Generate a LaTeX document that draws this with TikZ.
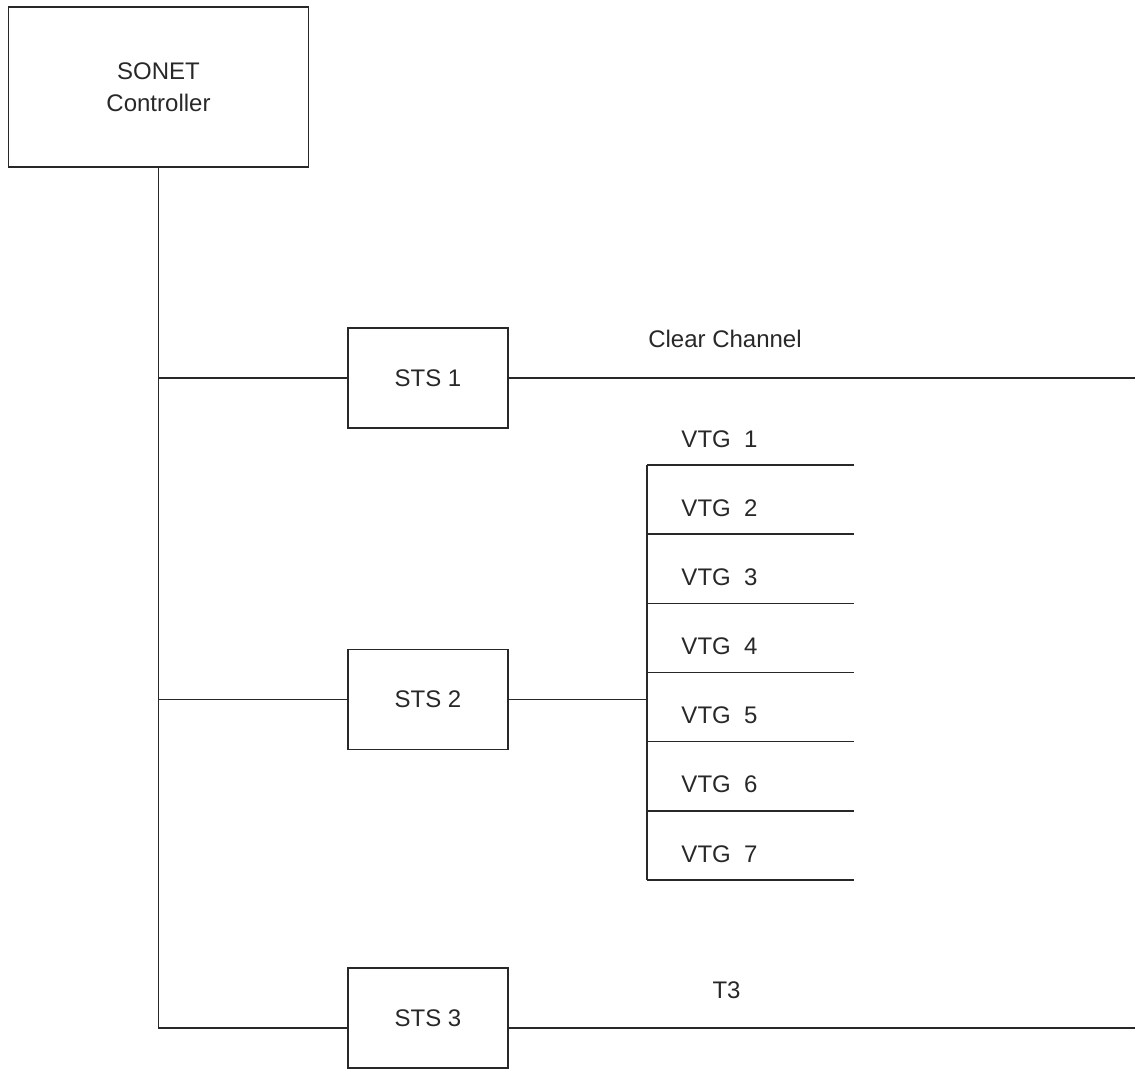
\documentclass[tikz,border=0pt]{standalone}
\usepackage{fontspec}
\setmainfont{Liberation Sans}
\usetikzlibrary{positioning}
\definecolor{lineink}{RGB}{40,40,40}

\begin{document}
\begin{tikzpicture}[x=0.5pt,y=-0.5pt,line width=0.75pt,color=lineink,
      every node/.style={font=\fontsize{12}{16}\selectfont},
      unit/.style={draw,minimum width=80pt,minimum height=50pt,inner sep=0pt}]
      \useasboundingbox (0,0) rectangle (1135,1070);
      \node[draw,minimum width=150pt,minimum height=80pt,align=center] (ctrl) at (158.5,87) {SONET\\Controller};
      \node[unit] (sts1) at (428,378) {STS 1};
      \node[unit,below=110pt of sts1] (sts2) {STS 2};
      \node[unit,below=108.5pt of sts2] (sts3) {STS 3};
      \coordinate (edge) at (1135,0);
      \coordinate (bus) at (647,0);
      \coordinate (sts3in) at ([yshift=-5pt]sts3.west);
      \coordinate (sts3out) at ([yshift=-5pt]sts3.east);
      % trunk and branches
      \draw (ctrl.south) |- (sts3in);
      \draw (ctrl.south |- sts1.west) -- (sts1.west);
      \draw (ctrl.south |- sts2.west) -- (sts2.west);
      \draw (sts1.east) -- (sts1.east -| edge);
      \draw (sts2.east) -- (sts2.east -| bus);
      \draw (sts3out) -- (sts3out -| edge);
      \node[anchor=base] (clear) at (725,347) {Clear Channel};
      \node[anchor=base] (t3) at (726.5,998) {T3};
      % virtual tributary groups
      \foreach \i in {1,...,7}{
        \coordinate (tap\i) at (647,{465+69.17*(\i-1)});
        \coordinate (end\i) at (854,{465+69.17*(\i-1)});
        \draw (tap\i) -- (end\i);
        \node[anchor=base] (vtg\i) at (719.5,{447+69.17*(\i-1)}) {VTG~~\i};
      }
      \draw (tap1) -- (tap7);
    \end{tikzpicture}
\end{document}
